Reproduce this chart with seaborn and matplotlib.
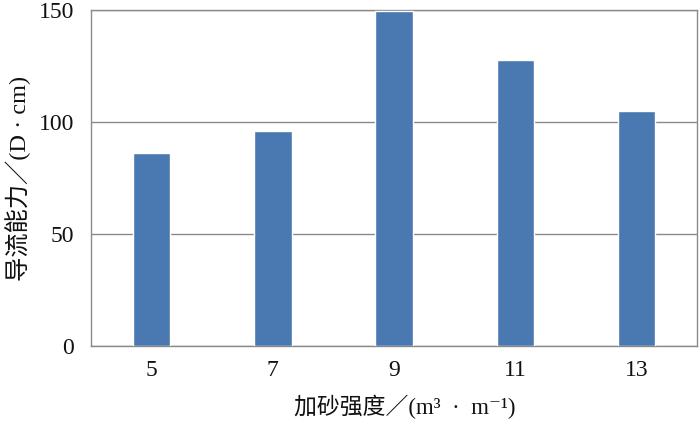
import numpy as np
import pandas as pd
import matplotlib
matplotlib.use('Agg')
import matplotlib.pyplot as plt
import seaborn as sns

# sand intensity categories and conductivity values
sand_intensity = ['5', '7', '9', '11', '13']
conductivity = [86.0, 96.0, 149.6, 127.7, 105.0]
y_ticks = [0, 50, 100, 150]

df = pd.DataFrame({'sand': sand_intensity, 'cond': conductivity})

sns.set_theme(style='white')
plt.rcParams['font.family'] = ['Liberation Serif', 'Noto Sans CJK SC', 'DejaVu Serif']

fig = plt.figure(figsize=(7, 4.23), dpi=100)
ax = fig.add_axes([0.13, 0.182, 0.866, 0.794])

sns.barplot(data=df, x='sand', y='cond', color='#4a78b0', saturation=1,
            width=0.31, ax=ax, zorder=3)

ax.set_ylim(0, 150)
ax.set_yticks(y_ticks)
ax.yaxis.grid(True, color='#8a8a8a', linewidth=1.0, zorder=0)
ax.set_axisbelow(True)
for s in ax.spines.values():
    s.set_color('#8a8a8a')
    s.set_linewidth(1.0)

ax.tick_params(axis='both', length=0, labelsize=17, colors='#111111')
ax.tick_params(axis='y', pad=12)
ax.tick_params(axis='x', pad=10)

ax.set_xlabel('加砂强度／(m³\u2002·\u2002m⁻¹)', fontsize=16.5, labelpad=10, color='#111111')
ax.xaxis.label.set_x(0.518)
ax.set_ylabel('导流能力／(D · cm)', fontsize=17.5, labelpad=6, color='#111111')

fig.savefig('out.png', dpi=100)
